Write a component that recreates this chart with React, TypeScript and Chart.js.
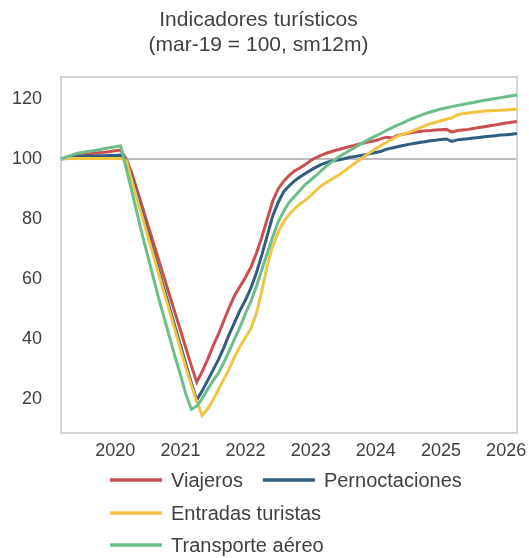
import { useEffect, useRef } from 'react';
import { Chart, registerables } from 'chart.js';

Chart.register(...registerables);

// Monthly categories: mar-19 … mar-26
const monthNames = ['ene', 'feb', 'mar', 'abr', 'may', 'jun', 'jul', 'ago', 'sep', 'oct', 'nov', 'dic'];
const months: string[] = [];
for (let y = 2019; y <= 2026; y++) {
  for (let m = 0; m < 12; m++) {
    if ((y === 2019 && m < 2) || (y === 2026 && m > 2)) continue;
    months.push(`${monthNames[m]}-${String(y).slice(2)}`);
  }
}

const yTicks = [20, 40, 60, 80, 100, 120];

const viajeros = [
  100, 100.4, 100.8, 101.2, 101.4, 101.6, 101.9, 102.1, 102.3, 102.5, 102.8, 103.0,
  100, 95.5, 89.7, 83.9, 78, 72.1, 66.3, 60.4, 54.5, 48.6, 42.8, 36.9, 31, 25.5,
  29, 33, 37.5, 41.5, 46, 50.5, 54.5, 57.5, 60.5, 64, 68.5, 74, 80, 86, 90, 92.5, 94.5, 96, 97, 98.2, 99.5, 100.5, 101.3,
  102.0, 102.6, 103.1, 103.6, 104.1, 104.5, 105.0, 105.4, 105.8, 106.2, 106.8, 107.3, 107.0, 107.9, 108.3, 108.6,
  108.9, 109.2, 109.4, 109.5, 109.7, 109.8, 109.9, 109.0, 109.5, 109.7, 109.9, 110.2, 110.5, 110.8, 111.1, 111.4,
  111.7, 112.0, 112.3, 112.5,
];

const pernoctaciones = [
  100, 100.3, 100.6, 100.8, 100.9, 101.0, 101.0, 101.1, 101.1, 101.2, 101.2, 101.3,
  99, 94, 87.8, 81.5, 75.3, 69, 62.8, 56.5, 50.3, 44, 37.8, 31.5, 25.3, 19.5,
  22.5, 26, 29.5, 33, 37, 41.5, 45.5, 49.5, 53, 57, 62, 68, 74.5, 81, 85.5, 89, 91, 92.7, 94, 95.2, 96.3, 97.3, 98.2,
  98.9, 99.4, 99.7, 100.0, 100.5, 100.8, 101.1, 101.4, 101.8, 102.2, 102.6, 103.3, 103.7, 104.1, 104.5, 104.9,
  105.2, 105.5, 105.8, 106.1, 106.3, 106.5, 106.7, 105.9, 106.4, 106.6, 106.8, 107.0, 107.2, 107.4, 107.6, 107.8,
  108.0, 108.1, 108.3, 108.5,
];

const entradasTuristas = [
  100, 100.1, 100.2, 100.2, 100.2, 100.2, 100.2, 100.2, 100.2, 100.2, 100.2, 100.2,
  99.5, 93, 86.8, 80.5, 74.2, 67.9, 61.6, 55.3, 49.1, 42.8, 36.6, 30.3, 24.5, 19, 14.4,
  16.5, 19.5, 23, 26.5, 30, 34, 37.5, 40.5, 43.5, 48.5, 56, 64.5, 71, 75.5, 79, 81.5, 83.3, 85, 86.2, 87.8, 89.6, 91.2,
  92.3, 93.4, 94.5, 95.8, 97.1, 98.4, 99.7, 101.0, 102.3, 103.5, 104.6, 105.6, 106.6, 107.6, 108.3, 108.8,
  109.6, 110.3, 111.1, 111.8, 112.3, 112.8, 113.3, 113.7, 114.8, 115.1, 115.4, 115.6, 115.8, 116.0, 116.1, 116.2,
  116.3, 116.4, 116.5, 116.6,
];

const transporteAereo = [
  100, 100.7, 101.3, 101.9, 102.2, 102.5, 102.8, 103.1, 103.5, 103.8, 104.1, 104.4,
  97, 89.5, 82, 74.5, 67.5, 60.5, 53.5, 47, 40.5, 34, 28, 21.5, 16.4,
  17.5, 20, 23, 26, 28.5, 32, 36, 40, 44, 48.5, 52.5, 57.5, 63, 68.5, 74, 79, 82.5, 85.5, 87.5, 89.5, 91.5, 93, 94.5,
  96.2, 97.8, 99.2, 100.5, 101.6, 102.7, 103.7, 104.8, 105.8, 106.8, 107.7, 108.6, 109.6, 110.5, 111.3, 112.1,
  113, 113.7, 114.4, 115.1, 115.7, 116.2, 116.7, 117.1, 117.5, 117.9, 118.2, 118.6, 118.9, 119.3, 119.6, 119.9,
  120.2, 120.5, 120.8, 121.1, 121.4,
];

const seriesNames = ['Viajeros', 'Pernoctaciones', 'Entradas turistas', 'Transporte aéreo'];
const seriesColors = ['#c9504f', '#2f5f80', '#f1c544', '#6dbd8b'];
const seriesData = [viajeros, pernoctaciones, entradasTuristas, transporteAereo];

const TEXT = '#404040';
const FONT = "'Liberation Sans', Arial, sans-serif";

// Frame around the plotting area
const frame = {
  id: 'frame',
  beforeDatasetsDraw(chart: any) {
    const { ctx, chartArea: a } = chart;
    ctx.save();
    ctx.strokeStyle = '#d4d4d4';
    ctx.lineWidth = 2;
    ctx.strokeRect(a.left, a.top, a.right - a.left, a.bottom - a.top);
    ctx.restore();
  },
};

// Legend laid out in left-aligned rows under the axis
const rowLegend = {
  id: 'rowLegend',
  afterDraw(chart: any) {
    const { ctx, chartArea: a } = chart;
    const rows = [[0, 1], [2], [3]];
    const rowOffsets = [47, 80, 112];
    const startX = 110;
    const sample = 52;
    const textGap = 9;
    const itemGap = 20;
    ctx.save();
    ctx.font = `20px ${FONT}`;
    ctx.textBaseline = 'middle';
    ctx.textAlign = 'left';
    rows.forEach((row, r) => {
      const y = a.bottom + rowOffsets[r];
      let x = startX;
      row.forEach((idx) => {
        const ds = chart.data.datasets[idx];
        ctx.strokeStyle = ds.borderColor;
        ctx.lineWidth = 3.5;
        ctx.beginPath();
        ctx.moveTo(x, y);
        ctx.lineTo(x + sample, y);
        ctx.stroke();
        ctx.fillStyle = TEXT;
        ctx.fillText(ds.label, x + sample + textGap, y + 1);
        x += sample + textGap + ctx.measureText(ds.label).width + itemGap;
      });
    });
    ctx.restore();
  },
};

export default function App() {
  const ref = useRef<HTMLCanvasElement>(null);

  useEffect(() => {
    if (!ref.current) return;
    const drawOrder = [4, 3, 2, 1];
    const chart = new Chart(ref.current, {
      type: 'line',
      data: {
        labels: months,
        datasets: seriesData.map((d, i) => ({
          label: seriesNames[i],
          data: d,
          borderColor: seriesColors[i],
          backgroundColor: seriesColors[i],
          borderWidth: 3,
          pointRadius: 0,
          tension: 0,
          order: drawOrder[i],
        })),
      },
      options: {
        responsive: false,
        animation: false,
        layout: { padding: { left: 0, right: 12, top: 0, bottom: 85 } },
        plugins: {
          legend: { display: false },
          tooltip: { enabled: false },
          title: {
            display: true,
            text: ['Indicadores turísticos', '(mar-19 = 100, sm12m)'],
            color: TEXT,
            font: { family: FONT, size: 21, weight: 'normal', lineHeight: 1.19 },
            padding: { top: 8, bottom: 19 },
          },
        },
        scales: {
          x: {
            type: 'category',
            grid: { display: false, drawTicks: false },
            border: { display: false },
            ticks: {
              autoSkip: false,
              maxRotation: 0,
              minRotation: 0,
              padding: 7,
              color: TEXT,
              font: { family: FONT, size: 18 },
              callback: (v: any) => {
                const lab = months[v as number];
                return lab && lab.startsWith('ene-') ? `20${lab.slice(4)}` : '';
              },
            },
            afterFit: (s: any) => {
              s.height = 40;
            },
          },
          y: {
            min: 8.5,
            max: 127.4,
            grid: {
              drawTicks: false,
              lineWidth: 2,
              color: (c: any) => (c.tick && c.tick.value === 100 ? '#bdbdbd' : 'rgba(0,0,0,0)'),
            },
            border: { display: false },
            afterBuildTicks: (s: any) => {
              s.ticks = yTicks.map((v) => ({ value: v }));
            },
            ticks: {
              padding: 19,
              color: TEXT,
              font: { family: FONT, size: 18 },
            },
            afterFit: (s: any) => {
              s.width = 61;
            },
          },
        },
      },
      plugins: [frame, rowLegend],
    });
    return () => chart.destroy();
  }, []);

  return (
    <div style={{ position: 'absolute', left: 0, top: 0, width: 529, height: 558, background: '#fff' }}>
      <canvas ref={ref} width={529} height={558} style={{ width: 529, height: 558, display: 'block' }} />
    </div>
  );
}
